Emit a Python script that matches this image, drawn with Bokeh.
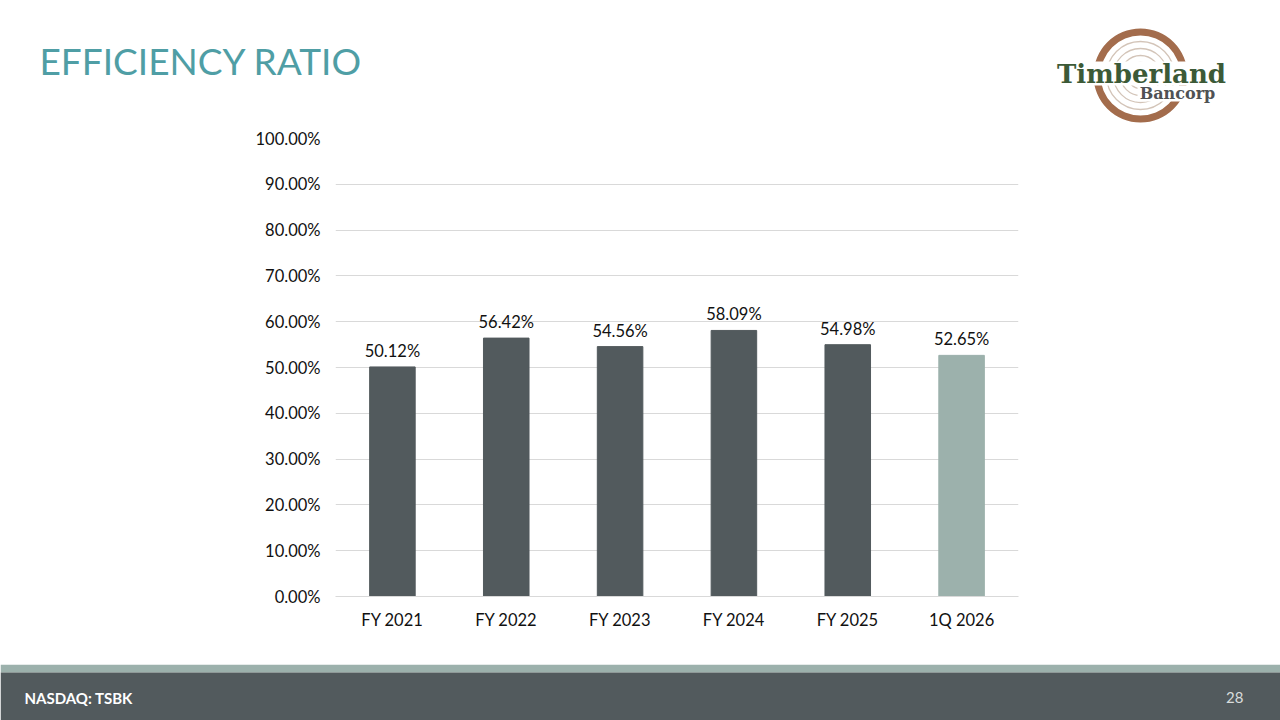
from bokeh.plotting import figure, ColumnDataSource
from bokeh.models import Range1d, FactorRange, LabelSet, PrintfTickFormatter
from bokeh.layouts import column
from bokeh.core.properties import value
from bokeh.embed import file_html
from bokeh.resources import INLINE

# data
periods = ['FY 2021', 'FY 2022', 'FY 2023', 'FY 2024', 'FY 2025', '1Q 2026']
ratios = [50.12, 56.42, 54.56, 58.09, 54.98, 52.65]
y_ticks = [0, 10, 20, 30, 40, 50, 60, 70, 80, 90, 100]

DARK = '#525a5d'
LIGHT = '#9cb1ac'
W = 1280
HEAD_BOTTOM, FOOT_TOP, H = 128, 664, 720
FRAME_L, FRAME_R, FRAME_T, FRAME_B = 335, 1018, 138, 596


def blank(top, bottom):
    # a strip of the slide whose data units are the slide's pixels (y downwards)
    f = figure(width=W, height=bottom - top, x_range=Range1d(0, W),
               y_range=Range1d(bottom, top),
               output_backend='svg', toolbar_location=None, tools='',
               x_axis_location=None, y_axis_location=None, min_border=0)
    f.frame_align = False
    f.grid.grid_line_color = None
    f.outline_line_color = None
    f.background_fill_color = 'white'
    f.border_fill_color = 'white'
    return f


# header: title + logo
head = blank(0, HEAD_BOTTOM)
head.text(x=[39], y=[60], text=['EFFICIENCY RATIO'], text_font=value('Lato'),
          text_font_size='37px', text_color='#4f9ea5', text_baseline='middle')

cx, cy = 1140, 75
head.circle(x=[cx] * 4, y=[cy] * 4, radius=[34, 27, 20, 13], fill_color=None,
            line_color='#d3c4b8', line_width=1.3)
head.annulus(x=[cx], y=[cy], inner_radius=40, outer_radius=47,
             fill_color='#a36c4c', line_color=None)
head.rect(x=[1141], y=[73], width=166, height=24, fill_color='white', line_color=None)
head.rect(x=[1177], y=[93], width=80, height=16, fill_color='white', line_color=None)
head.text(x=[1141], y=[73], text=['Timberland'], text_font=value('DejaVu Serif'),
          text_font_style='bold', text_font_size='26px', text_color='#3c5a37',
          text_align='center', text_baseline='middle')
head.text(x=[1177], y=[93], text=['Bancorp'], text_font=value('DejaVu Serif'),
          text_font_style='bold', text_font_size='16px', text_color='#4f5254',
          text_align='center', text_baseline='middle')

# chart
colors = [DARK] * (len(periods) - 1) + [LIGHT]
source = ColumnDataSource(data={
    'period': periods,
    'ratio': ratios,
    'label': ['%.2f%%' % r for r in ratios],
    'color': colors,
})

p = figure(width=W, height=FOOT_TOP - HEAD_BOTTOM,
           x_range=FactorRange(*periods, range_padding=0),
           y_range=Range1d(0, 100),
           output_backend='svg', toolbar_location=None, tools='')
p.frame_align = False
p.min_border_left = FRAME_L
p.min_border_right = W - FRAME_R
p.min_border_top = FRAME_T - HEAD_BOTTOM
p.min_border_bottom = FOOT_TOP - FRAME_B
p.outline_line_color = None
p.background_fill_color = 'white'
p.border_fill_color = 'white'

p.vbar(x='period', top='ratio', width=0.4, color='color', source=source)

labels = LabelSet(x='period', y='ratio', text='label', source=source,
                  y_offset=6, text_align='center', text_baseline='bottom',
                  text_font=value('Lato'), text_font_size='16.5px', text_color='#111111')
p.add_layout(labels)

p.xgrid.grid_line_color = None
p.ygrid.grid_line_color = '#d9d9d9'
p.ygrid.ticker = y_ticks

p.yaxis.ticker = y_ticks
p.yaxis.formatter = PrintfTickFormatter(format='%.2f%%')
p.yaxis.axis_line_color = None
p.yaxis.major_tick_line_color = None
p.yaxis.minor_tick_line_color = None
p.yaxis.major_tick_out = 0
p.yaxis.major_label_standoff = 15
p.yaxis.major_label_text_font = 'Lato'
p.yaxis.major_label_text_font_size = '16.5px'
p.yaxis.major_label_text_color = '#111111'

p.xaxis.axis_line_color = '#d9d9d9'
p.xaxis.major_tick_line_color = None
p.xaxis.minor_tick_line_color = None
p.xaxis.major_tick_out = 0
p.xaxis.major_label_standoff = 13
p.xaxis.major_label_text_font = 'Lato'
p.xaxis.major_label_text_font_size = '16.5px'
p.xaxis.major_label_text_color = '#111111'

# footer
foot = blank(FOOT_TOP, H)
foot.quad(left=[0], right=[W], top=[FOOT_TOP], bottom=[672], fill_color=LIGHT, line_color=None)
foot.quad(left=[0], right=[W], top=[672], bottom=[H], fill_color=DARK, line_color=None)
foot.text(x=[24], y=[697], text=['NASDAQ: TSBK'], text_font=value('Lato'),
          text_font_style='bold', text_font_size='15px', text_color='white',
          text_baseline='middle')
foot.text(x=[1243], y=[697], text=['28'], text_font=value('Lato'),
          text_font_size='15px', text_color='#d8dcdc', text_align='right',
          text_baseline='middle')

layout = column(head, p, foot, spacing=0)
open('out.html', 'w').write(file_html(layout, INLINE))
